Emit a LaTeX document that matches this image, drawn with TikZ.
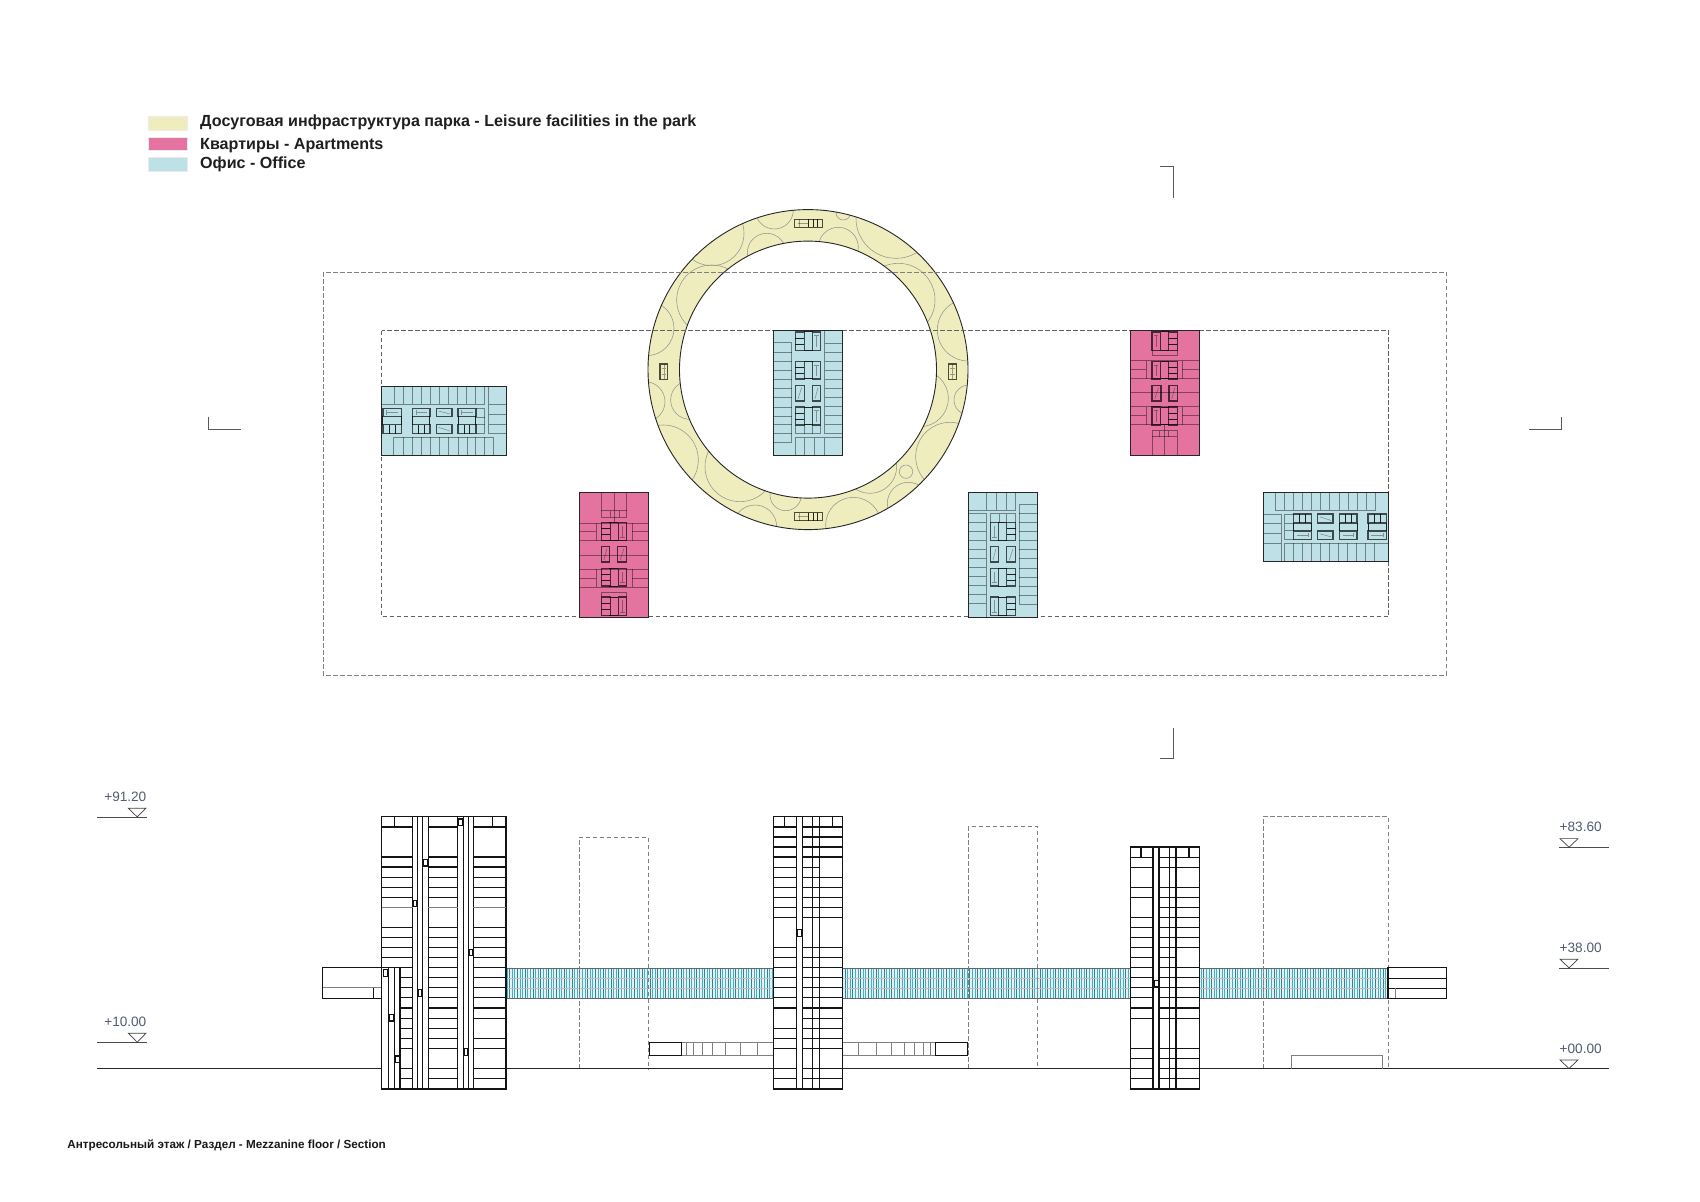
\documentclass[tikz,border=0pt]{standalone}
\usepackage{fontspec}
\setmainfont{Liberation Sans}
\definecolor{cyel}{HTML}{EFEDBE}
\definecolor{cpink}{HTML}{E5739F}
\definecolor{cblue}{HTML}{BEE1E8}
\definecolor{cteal}{HTML}{45AEC2}
\definecolor{cpale}{HTML}{E2F2F5}
\definecolor{cslate}{HTML}{4F5D73}
\tikzset{
  thinl/.style={draw=black,draw opacity=.42,line width=.7pt},
  corel/.style={draw=black,draw opacity=.68,line width=1.4pt},
  coreth/.style={draw=black,draw opacity=.85,line width=.9pt},
  innerl/.style={draw=black,draw opacity=.35,line width=.6pt},
  outl/.style={draw=black!85,line width=.9pt},
  dashouter/.style={draw=black!50,line width=.9pt,dash pattern=on 4.5pt off 2.5pt},
  dashinner/.style={draw=black!62,line width=.9pt,dash pattern=on 4.5pt off 2.5pt},
  secl/.style={draw=black!92,line width=1.2pt},
  secg/.style={draw=black!50,line width=.9pt},
  arcl/.style={draw=black!42,line width=.55pt},
  markl/.style={draw=black!65,line width=.8pt},
  lev/.style={inner sep=0pt,text=cslate,font=\fontsize{13.6}{15}\selectfont},
  leg/.style={inner sep=0pt,anchor=base west,text=black!88,font=\fontsize{16.1}{18}\selectfont\bfseries},
  swatch/.style={draw=black!8,line width=.5pt},
  levl/.style={draw=black!70,line width=.8pt},
  levt/.style={draw=black!75,line width=.7pt},
}
\newcommand{\Hr}[4][]{\foreach \yy in {#4}{\draw[#1] (#2,\yy) -- (#3,\yy);}}
\newcommand{\Vr}[4][]{\foreach \xx in {#4}{\draw[#1] (\xx,#2) -- (\xx,#3);}}
% lift groups in tower units
\newcommand{\liftcells}[3]{% x, y1, y2 : three stacked cells
  \pgfmathsetmacro{\wa}{(#3-#2)/3+#2}\pgfmathsetmacro{\wb}{2*(#3-#2)/3+#2}
  \pgfmathsetmacro{\xe}{#1+27}
  \draw[coreth] (#1,\wa) -- (\xe,\wa) (#1,\wb) -- (\xe,\wb);
  \draw[corel] (#1,#2) rectangle (\xe,#3);
}
\newcommand{\liftplain}[3]{% x, y1, y2 : box with a thin centre line
  \pgfmathsetmacro{\xe}{#1+25}\pgfmathsetmacro{\xc}{#1+12.5}
  \pgfmathsetmacro{\wa}{#2+10}\pgfmathsetmacro{\wb}{#3-10}
  \draw[innerl] (\xc,\wa) -- (\xc,\wb) (#1+6,\wa) -- (#1+19,\wa);
  \draw[corel] (#1,#2) rectangle (\xe,#3);
}
\newcommand{\liftdiag}[4]{% x, y1, y2, w
  \pgfmathsetmacro{\xe}{#1+#4}
  \draw[innerl] (#1+8,#3-6) -- (#1+#4-8,#2+6);
  \draw[corel] (#1,#2) rectangle (\xe,#3);
}
\newcommand{\core}[2]{% #1 = x of three-cell column, #2 = x of plain column
  \foreach \gt/\gb in {424/480,513/565,650/703}{
    \draw[coreth] (493,\gt) -- (518,\gt) (493,\gb) -- (518,\gb);
    \liftcells{#1}{\gt}{\gb}
    \liftplain{#2}{\gt}{\gb}
  }
  \liftdiag{466}{585}{631}{27}
  \liftdiag{517}{585}{631}{25}
}
\newcommand{\blueplan}{%
  \fill[cblue] (400,420) rectangle (608,795);
  \begin{scope}[thinl]
    \draw (400,457) -- (455,457) -- (455,757) -- (400,757);
    \Hr{400}{455}{485,513,539,567,595,622,650,677,703,730}
    \draw (554,420) -- (554,730) -- (608,730);
    \Hr{554}{608}{460,487,514,541,568,595,622,649,676,703}
    \draw (608,741) -- (466,741) -- (466,795);
    \Vr{741}{795}{493,523,553}
    \draw (466,703) -- (466,730) -- (542,730) -- (542,703);
    \Vr{703}{730}{493,516}
  \end{scope}
  \core{466}{517}
  \draw[outl] (400,420) rectangle (608,795);
}
\newcommand{\pinkplan}{%
  \fill[cpink] (400,420) rectangle (608,795);
  \begin{scope}[thinl]
    \Hr{400}{608}{510,564,606,649,702}
    \Hr{400}{449}{536,676}
    \Hr{557}{608}{536,676}
    \Vr{510}{564}{449,557}
    \Vr{649}{702}{449,557}
    \draw (466,479) -- (466,494) -- (542,494) -- (542,479);
    \draw (466,795) -- (466,720) -- (542,720) -- (542,795);
    \draw (466,739) -- (542,739);
    \Vr{720}{739}{489,515}
    \draw (502,702) -- (502,795);
  \end{scope}
  \core{515}{466}
  \draw[outl] (400,420) rectangle (608,795);
}
\newcommand{\ringunit}{% horizontal element, 84 x 24 in zoom units, origin at left top
  \draw[innerl] (10,12) -- (40,12);
  \draw[innerl] (14,0) -- (14,24);
  \draw[coreth] (42,0) -- (42,24) (56,0) -- (56,24) (70,0) -- (70,24);
  \draw[corel] (0,0) rectangle (84,24);
}
\newcommand{\ringside}{%
  \draw[innerl] (5,14) -- (18,14) (5,32) -- (18,32) (11.5,0) -- (11.5,46);
  \draw[corel] (0,0) rectangle (23,46);
}
\begin{document}
\begin{tikzpicture}[x=1pt,y=-1pt]
\useasboundingbox (0,0) rectangle (1700,1202);
\fill[white] (0,0) rectangle (1700,1202);
% ---------- legend
\fill[cyel,swatch] (148.5,116.7) rectangle (187,130);
\fill[cpink,swatch] (148.5,137) rectangle (187,150.5);
\fill[cblue,swatch] (148.5,157) rectangle (187,171);
\node[leg] (legA) at (200,126) {Досуговая инфраструктура парка - Leisure facilities in the park};
\node[leg] (legB) at (200,149) {Квартиры - Apartments};
\node[leg] (legC) at (200,168) {Офис - Office};
% ---------- section marks
\draw[markl] (1160,166) -- (1173,166) -- (1173,197.5);
\draw[markl] (1160,758) -- (1173,758) -- (1173,728);
\draw[markl] (208.5,416.5) -- (208.5,429.5) -- (241,429.5);
\draw[markl] (1529,429.5) -- (1561,429.5) -- (1561,416.5);
% ---------- ring
\fill[cyel,even odd rule] (808,369.6) circle (160) (808,369.6) circle (128.5);
\begin{scope}[even odd rule]
  \clip (808,369.6) circle (160) (808,369.6) circle (128.5);
  \begin{scope}[shift={(640,190)},scale=.33333]
    \foreach \cx/\cy/\rr in {403/60/57,610/68/22,768/85/120,215/130/97,380/188/58,595/172/60,
      215/330/105,20/415/82,775/330/110,985/420/93,15/635/60,150/630/58,840/625/85,987/630/45,
      70/810/105,300/830/105,345/1010/65,437/915/47,640/1005/83,690/830/80,798/845/20,805/940/63,930/800/103}
      {\draw[arcl] (\cx,\cy) circle (\rr);}
  \end{scope}
\end{scope}
\draw[outl] (808,369.6) circle (160) (808,369.6) circle (128.5);
\begin{scope}[shift={(640,190)},scale=.33333]
  \begin{scope}[shift={(463,88)}]\ringunit\end{scope}
  \begin{scope}[shift={(463,968)}]\ringunit\end{scope}
  \begin{scope}[shift={(60,522)}]\ringside\end{scope}
  \begin{scope}[shift={(926,522)}]\ringside\end{scope}
\end{scope}
% ---------- site limits
\draw[dashouter] (323.2,272) rectangle (1446.5,675);
\draw[dashinner] (381.5,330.6) rectangle (1388.5,616.6);
% ---------- plan towers (unit = 1/3 px, centred on 504,607.5)
\begin{scope}[shift={(808,393)},scale=.33333,shift={(-504,-607.5)}]\blueplan\end{scope}
\begin{scope}[shift={(1003,554.5)},rotate=180,scale=.33333,shift={(-504,-607.5)}]\blueplan\end{scope}
\begin{scope}[shift={(444,421)},rotate=90,scale=.33333,shift={(-504,-607.5)}]\blueplan\end{scope}
\begin{scope}[shift={(1325.6,526.8)},rotate=-90,scale=.33333,shift={(-504,-607.5)}]\blueplan\end{scope}
\begin{scope}[shift={(1164.8,393)},scale=.33333,shift={(-504,-607.5)}]\pinkplan\end{scope}
\begin{scope}[shift={(613.9,554.5)},rotate=180,scale=.33333,shift={(-504,-607.5)}]\pinkplan\end{scope}
\begin{scope}[yshift=-0.9pt]
% ---------- ribbon
\fill[cpale] (506,967.3) rectangle (1388,997.3);
\foreach \i in {0,...,338}{
  \pgfmathsetmacro{\px}{507+2.6*\i}
  \pgfmathtruncatemacro{\m}{mod(\i,3)}
  \ifnum\m=1
    \draw[draw=black!25!cteal,line width=.8pt] (\px,967.3) -- (\px,997.3);
  \else
    \draw[cteal,line width=.8pt] (\px,967.3) -- (\px,997.3);
  \fi
}
\Hr[draw=black!25,line width=.7pt]{506}{1388}{977.3,987.3}
\Hr[draw=black!60,line width=.8pt]{506}{1388}{967.3,997.3}
% ---------- dashed towers
\draw[dashouter] (579,1067.7) -- (579,836.3) -- (648.3,836.3) -- (648.3,1067.7);
\draw[dashouter] (968.3,1067.7) -- (968.3,826) -- (1037.7,826) -- (1037.7,1067.7);
\draw[dashouter] (1263.3,1067.7) -- (1263.3,815.7) -- (1388,815.7) -- (1388,1067.7);
% ---------- ground
\draw[draw=black!85,line width=1.2pt] (97,1067.7) -- (1609,1067.7);
% ---------- low annexes
\begin{scope}[shift={(640,800)},scale=.33333]
  \draw[secg] (125,724) rectangle (401,763);
  \Vr[secg]{724}{763}{139,160,186,218,256,301,352}
  \draw[secg] (608,724) rectangle (886,763);
  \Vr[secg]{724}{763}{656,709,755,792,823,851,871}
  \draw[secl,fill=white] (28,724) rectangle (125,763);
  \draw[secl,fill=white] (886,724) rectangle (982,763);
\end{scope}
\draw[secg] (1291.4,1067.7) -- (1291.4,1054.3) -- (1382.5,1054.3) -- (1382.5,1067.7);
% ---------- tower A section
\begin{scope}[shift={(300,800)},scale=.33333]
  \fill[white] (245,47) rectangle (618,864);
  % left wing
  \fill[white] (68,500) rectangle (245,592);
  \draw[secl] (245,500) -- (68,500) -- (68,592) -- (245,592);
  \draw[secg] (68,560) -- (245,560);
  \draw[secl,line width=.8pt] (220,560) -- (220,592);
  % rows
  \begin{scope}[secl]
    \Hr{245}{338}{78,168,198,229,259,289,380,410,440,470,500}
    \Hr{300}{338}{500,530,560,590,621,652,682,712,742,803,833}
    \Hr{385}{473}{78,168,198,229,259,289,380,410,440,470,500,530,560,590,621,652,682,712,742,803,833}
    \Hr{520}{618}{78,168,198,229,259,289,380,410,440,470,500,530,560,590,621,652,712,742,803,833}
    \Vr{47}{864}{338,352,368,385,473,490,506,520}
    \Vr{500}{864}{265,283,300}
    \draw (283,47) -- (283,78) (578,47) -- (578,78);
    \draw (245,47) rectangle (618,864);
  \end{scope}
  \Hr[secg]{245}{338}{320}
  \Hr[secg]{385}{473}{320}
  \Hr[secg]{520}{618}{320}
  \foreach \xa/\ya/\xb/\yb in {475/54/488/74,370/175/384/195,339/298/351/317,507/445/519/464,354/566/366/586,250/506/262/526,268/640/281/660,285/765/299/785,492/742/503/763}
    {\draw[secl,fill=white,line width=1.4pt] (\xa,\ya) rectangle (\xb,\yb);}
\end{scope}
% ---------- tower B section
\begin{scope}[shift={(640,800)},scale=.33333]
  \fill[white] (401,47) rectangle (608,864);
  \begin{scope}[secl]
    \Hr{401}{469}{78,108,138,168,199,229,259,289,320,350,440,470,500,530,560,590,621,682,712,742,803,833}
    \Hr{487}{538}{78,108,138,168,199,229,259,289,320,350,440,470,500,530,560,590,621,652,682,712,742,803,833}
    \Hr{538}{608}{78,108,138,168,229,259,289,320,350,440,470,500,530,560,590,621,652,682,712,742,803,833}
    \Vr{47}{864}{469,487,518,538}
    \draw (433,47) -- (433,78) (577,47) -- (577,78);
    \draw (401,47) rectangle (608,864);
  \end{scope}
  \draw[secl,fill=white,line width=1.4pt] (471,386) rectangle (486,407);
\end{scope}
% ---------- tower C section
\begin{scope}[shift={(996.7,800)},scale=.33333]
  \fill[white] (401,138) rectangle (608,864);
  \begin{scope}[secl]
    \Hr{401}{469}{169,199,259,289,350,380,410,440,470,500,530,560,590,621,652,742,772,803,833}
    \Hr{487}{538}{169,199,259,289,320,350,380,410,440,470,500,530,560,590,621,652,742,772,803,833}
    \Hr{538}{608}{169,199,259,289,320,350,380,410,440,500,530,560,590,621,652,742,772,803,833}
    \Vr{138}{864}{469,487,518,538}
    \draw (433,138) -- (433,169) (577,138) -- (577,169);
    \draw (401,138) rectangle (608,864);
  \end{scope}
  \draw[secl,fill=white,line width=1.4pt] (472,538) rectangle (487,558);
\end{scope}
% ---------- right wing
\fill[white] (1388,966.7) rectangle (1446.8,997.3);
\draw[secl] (1388,966.7) rectangle (1446.8,997.3);
\Hr[secl]{1388}{1446.8}{977.3,987.3}
\draw[secg,line width=1.4pt] (1395.7,987.3) -- (1395.7,997.3);
% ---------- levels
\draw[levl] (97,816) -- (146.7,816);
\draw[levt] (128.3,807.3) -- (146,807.3) -- (137.2,816) -- cycle;
\node[lev,anchor=east] (l91) at (146.5,796) {+91.20};
\draw[levl] (97,1041.3) -- (146.7,1041.3);
\draw[levt] (128.3,1032.3) -- (146,1032.3) -- (137.2,1041.3) -- cycle;
\node[lev,anchor=east] (l10) at (146.5,1021) {+10.00};
\draw[levl] (1559,846.3) -- (1609,846.3);
\draw[levt] (1560,837.7) -- (1578,837.7) -- (1569,846.3) -- cycle;
\node[lev,anchor=west] (l83) at (1559.5,826) {+83.60};
\draw[levl] (1559,967) -- (1609,967);
\draw[levt] (1560,958.3) -- (1578,958.3) -- (1569,967) -- cycle;
\node[lev,anchor=west] (l38) at (1559.5,947) {+38.00};
\draw[levt] (1560,1059) -- (1578,1059) -- (1569,1067.7) -- cycle;
\node[lev,anchor=west] (l00) at (1559.5,1048) {+00.00};
\end{scope}
% ---------- title
\node[inner sep=0pt,anchor=west,text=black!90,font=\fontsize{11.7}{13}\selectfont\bfseries] (title) at (67.2,1145.8) {Антресольный этаж / Раздел - Mezzanine floor / Section};
\end{tikzpicture}
\end{document}
